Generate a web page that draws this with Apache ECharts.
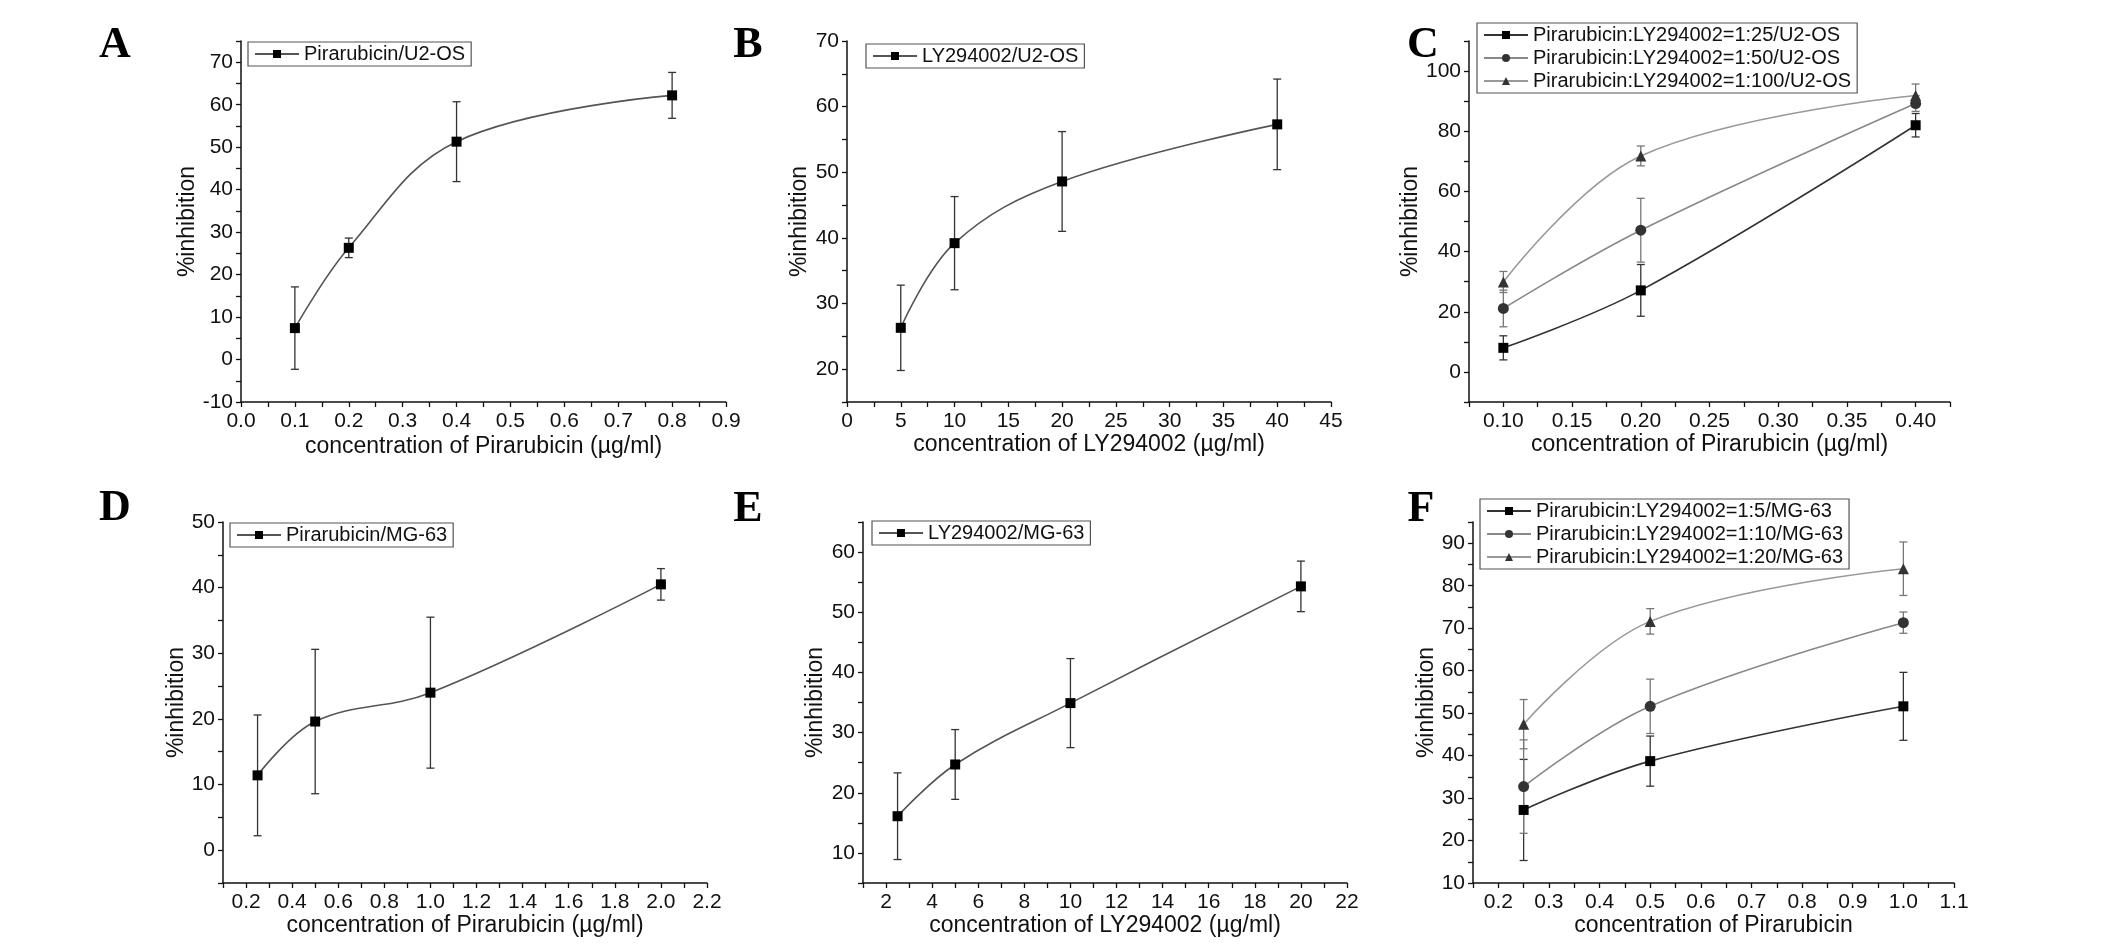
<!DOCTYPE html>
<html>
<head>
<meta charset="utf-8">
<script src="https://cdn.jsdelivr.net/npm/echarts@6/dist/echarts.min.js"></script>
<style>
html,body{margin:0;padding:0;background:#fff;}
#chart{width:2126px;height:949px;}
</style>
</head>
<body>
<div id="chart"></div>
<script>
// ---------- DATA ----------
// Panel A: Pirarubicin / U2-OS
const aX = [0.1, 0.2, 0.4, 0.8];
const aY = [7.4, 26.3, 51.3, 62.2];
const aErr = [9.7, 2.3, 9.4, 5.4];
// Panel B: LY294002 / U2-OS
const bX = [5, 10, 20, 40];
const bY = [26.3, 39.2, 48.6, 57.3];
const bErr = [6.5, 7.1, 7.6, 6.9];
// Panel C: combinations / U2-OS
const cX = [0.1, 0.2, 0.4];
const c25Y = [8.0, 27.1, 82.0];
const c25Err = [4.0, 8.6, 3.9];
const c50Y = [21.1, 47.1, 89.2];
const c50Err = [6.1, 10.6, 2.6];
const c100Y = [29.9, 71.8, 91.9];
const c100Err = [3.5, 3.3, 3.8];
// Panel D: Pirarubicin / MG-63
const dX = [0.25, 0.5, 1.0, 2.0];
const dY = [11.4, 19.6, 24.0, 40.5];
const dErr = [9.2, 11.0, 11.5, 2.4];
// Panel E: LY294002 / MG-63
const eX = [2.5, 5, 10, 20];
const eY = [16.1, 24.7, 34.9, 54.3];
const eErr = [7.2, 5.8, 7.4, 4.2];
// Panel F: combinations / MG-63
const fX = [0.25, 0.5, 1.0];
const f5Y = [27.2, 38.7, 51.6];
const f5Err = [11.9, 5.9, 8.0];
const f10Y = [32.7, 51.6, 71.3];
const f10Err = [11.0, 6.4, 2.5];
const f20Y = [47.4, 71.6, 84.0];
const f20Err = [5.8, 3.0, 6.3];

const panelLetters = ['A', 'B', 'C', 'D', 'E', 'F'];
const yTitle = '%inhibition';
const xTitles = [
  'concentration of Pirarubicin (\u00b5g/ml)',
  'concentration of LY294002 (\u00b5g/ml)',
  'concentration of Pirarubicin (\u00b5g/ml)',
  'concentration of Pirarubicin (\u00b5g/ml)',
  'concentration of LY294002 (\u00b5g/ml)',
  'concentration of Pirarubicin'
];
// ---------- LAYOUT ----------
const FONT = 'Liberation Sans, Arial, sans-serif';
const grids = [
  {left: 241, top: 41, width: 485, height: 361},
  {left: 847, top: 41, width: 484, height: 361},
  {left: 1469, top: 41, width: 481, height: 361},
  {left: 223, top: 522, width: 484, height: 361},
  {left: 863, top: 522, width: 484, height: 361},
  {left: 1473, top: 522, width: 481, height: 361}
];
// axis ranges: [min, max, tickStep, labelStep, decimals]
const xRanges = [
  [0, 0.9, 0.05, 0.1, 1],
  [0, 45, 2.5, 5, 0],
  [0.075, 0.425, 0.025, 0.05, 2],
  [0.1, 2.2, 0.1, 0.2, 1],
  [1, 22, 1, 2, 0],
  [0.15, 1.1, 0.05, 0.1, 1]
];
const yRanges = [
  [-10, 75, 5, 10, 0],
  [15, 70, 5, 10, 0],
  [-10, 110, 10, 20, 0],
  [-5, 50, 5, 10, 0],
  [5, 65, 5, 10, 0],
  [10, 95, 5, 10, 0]
];
const xNameGap = [33, 30, 30, 30, 30, 31];
const yNameGap = [39, 36, 34, 34, 36, 33];
const letterPos = [[115, 46], [748, 46], [1423, 46], [115, 509], [748, 510], [1421, 510]];

function isMult(v, step) {
  const r = v / step;
  return Math.abs(r - Math.round(r)) < 1e-6;
}
function fmt(step, dec) {
  return function (v) { return isMult(v, step) ? Number(v).toFixed(dec) : ''; };
}

const xAxes = xRanges.map((r, i) => ({
  type: 'value', gridIndex: i, min: r[0], max: r[1], interval: r[2],
  name: xTitles[i], nameLocation: 'middle', nameGap: xNameGap[i],
  nameTextStyle: {fontFamily: FONT, fontSize: 23, color: '#111'},
  axisLine: {show: true, onZero: false, lineStyle: {color: '#111', width: 1.5}},
  axisTick: {show: true, length: 5, lineStyle: {color: '#111', width: 1.3}},
  axisLabel: {fontFamily: FONT, fontSize: 21, color: '#111', margin: 9, formatter: fmt(r[3], r[4])},
  splitLine: {show: false}
}));
const yAxes = yRanges.map((r, i) => ({
  type: 'value', gridIndex: i, min: r[0], max: r[1], interval: r[2],
  name: yTitle, nameLocation: 'middle', nameGap: yNameGap[i], nameRotate: 90,
  nameTextStyle: {fontFamily: FONT, fontSize: 23, color: '#111'},
  axisLine: {show: true, onZero: false, lineStyle: {color: '#111', width: 1.5}},
  axisTick: {show: true, length: 5, lineStyle: {color: '#111', width: 1.3}},
  axisLabel: {fontFamily: FONT, fontSize: 21, color: '#111', margin: 8, formatter: fmt(r[3], r[4])},
  splitLine: {show: false}
}));

const series = [];
function addSeries(gi, name, xs, ys, es, opts) {
  series.push({
    type: 'line', name: name, xAxisIndex: gi, yAxisIndex: gi,
    data: xs.map((x, i) => [x, ys[i]]),
    smooth: 0.38,
    symbol: opts.symbol, symbolSize: opts.size,
    lineStyle: {color: opts.line, width: 1.6},
    itemStyle: {color: opts.mark},
    z: 3
  });
  const ec = opts.err;
  series.push({
    type: 'custom', xAxisIndex: gi, yAxisIndex: gi, silent: true, z: 2,
    data: xs.map((x, i) => [x, ys[i] - es[i], ys[i] + es[i]]),
    encode: {x: 0, y: [1, 2]},
    renderItem: function (params, api) {
      const lo = api.coord([api.value(0), api.value(1)]);
      const hi = api.coord([api.value(0), api.value(2)]);
      const w = 4;
      const st = {stroke: ec, lineWidth: 1.3};
      return {type: 'group', children: [
        {type: 'line', shape: {x1: lo[0], y1: lo[1], x2: hi[0], y2: hi[1]}, style: st},
        {type: 'line', shape: {x1: lo[0] - w, y1: lo[1], x2: lo[0] + w, y2: lo[1]}, style: st},
        {type: 'line', shape: {x1: hi[0] - w, y1: hi[1], x2: hi[0] + w, y2: hi[1]}, style: st}
      ]};
    }
  });
}
const single = {symbol: 'rect', size: 10, line: '#555', mark: '#000', err: '#333'};
addSeries(0, 'Pirarubicin/U2-OS', aX, aY, aErr, single);
addSeries(1, 'LY294002/U2-OS', bX, bY, bErr, single);
addSeries(2, 'Pirarubicin:LY294002=1:25/U2-OS', cX, c25Y, c25Err, {symbol: 'rect', size: 10, line: '#333', mark: '#000', err: '#333'});
addSeries(2, 'Pirarubicin:LY294002=1:50/U2-OS', cX, c50Y, c50Err, {symbol: 'circle', size: 11, line: '#888', mark: '#333', err: '#777'});
addSeries(2, 'Pirarubicin:LY294002=1:100/U2-OS', cX, c100Y, c100Err, {symbol: 'triangle', size: 11, line: '#999', mark: '#333', err: '#777'});
addSeries(3, 'Pirarubicin/MG-63', dX, dY, dErr, single);
addSeries(4, 'LY294002/MG-63', eX, eY, eErr, single);
addSeries(5, 'Pirarubicin:LY294002=1:5/MG-63', fX, f5Y, f5Err, {symbol: 'rect', size: 10, line: '#333', mark: '#000', err: '#333'});
addSeries(5, 'Pirarubicin:LY294002=1:10/MG-63', fX, f10Y, f10Err, {symbol: 'circle', size: 11, line: '#888', mark: '#333', err: '#777'});
addSeries(5, 'Pirarubicin:LY294002=1:20/MG-63', fX, f20Y, f20Err, {symbol: 'triangle', size: 11, line: '#999', mark: '#333', err: '#777'});

function legend(names, left, top) {
  return {
    data: names, left: left, top: top, orient: 'vertical',
    itemWidth: 44, itemHeight: 10, itemGap: 3,
    padding: [2, 6, 2, 6],
    borderColor: '#555', borderWidth: 1.2, borderRadius: 0,
    selectedMode: false,
    textStyle: {fontFamily: FONT, fontSize: 20, color: '#111', lineHeight: 20}
  };
}
const legends = [
  legend(['Pirarubicin/U2-OS'], 248, 42),
  legend(['LY294002/U2-OS'], 866, 44),
  legend(['Pirarubicin:LY294002=1:25/U2-OS', 'Pirarubicin:LY294002=1:50/U2-OS', 'Pirarubicin:LY294002=1:100/U2-OS'], 1477, 23),
  legend(['Pirarubicin/MG-63'], 230, 523),
  legend(['LY294002/MG-63'], 872, 521),
  legend(['Pirarubicin:LY294002=1:5/MG-63', 'Pirarubicin:LY294002=1:10/MG-63', 'Pirarubicin:LY294002=1:20/MG-63'], 1480, 499)
];

const letters = panelLetters.map((t, i) => ({
  type: 'text', x: letterPos[i][0], y: letterPos[i][1],
  style: {text: t, fill: '#000', font: 'bold 44px "Liberation Serif", "Times New Roman", serif',
    textAlign: 'center', textVerticalAlign: 'middle'}
}));

const chart = echarts.init(document.getElementById('chart'), null, {renderer: 'canvas'});
chart.setOption({
  backgroundColor: '#fff',
  animation: false,
  grid: grids.map(g => Object.assign({containLabel: false}, g)),
  xAxis: xAxes,
  yAxis: yAxes,
  legend: legends,
  graphic: letters,
  series: series
});
</script>
</body>
</html>
